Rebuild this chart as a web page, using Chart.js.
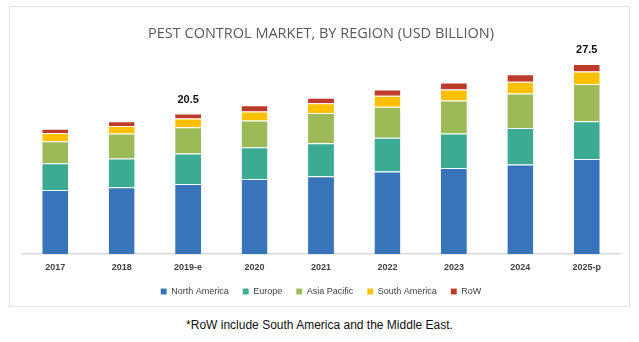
<!DOCTYPE html>
<html>
<head>
<meta charset="utf-8">
<script src="https://cdn.jsdelivr.net/npm/chart.js@4"></script>
<style>
  html, body { margin: 0; padding: 0; background: #fff; }
  body { width: 639px; height: 342px; position: relative; overflow: hidden; }
  #frame { position: absolute; left: 9px; top: 6px; width: 619px; height: 299px; border: 1px solid #e3e3e3; }
  #note { position: absolute; left: 0; width: 639px; top: 318px; text-align: center;
          font-family: "Liberation Sans", sans-serif; font-size: 12px; color: #111; }
</style>
</head>
<body>
<div id="frame"><canvas id="chart" width="619" height="299"></canvas></div>
<div id="note">*RoW include South America and the Middle East.</div>
<script>
const years = ['2017', '2018', '2019-e', '2020', '2021', '2022', '2023', '2024', '2025-p'];
const northAmerica = [9.3, 9.7, 10.2, 10.9, 11.3, 12.0, 12.5, 13.0, 13.8];
const europe = [3.9, 4.2, 4.4, 4.6, 4.8, 4.9, 5.0, 5.3, 5.5];
const asiaPacific = [3.2, 3.6, 3.8, 3.9, 4.4, 4.5, 4.8, 5.0, 5.4];
const southAmerica = [1.2, 1.1, 1.3, 1.3, 1.4, 1.6, 1.6, 1.7, 1.8];
const row = [0.6, 0.7, 0.7, 0.9, 0.8, 0.9, 1.0, 1.1, 1.1];
const totalLabels = ['', '', '20.5', '', '', '', '', '', '27.5'];

const totalsPlugin = {
    id: 'totals',
    afterDatasetsDraw(chart) {
        const ctx = chart.ctx;
        const meta = chart.getDatasetMeta(chart.data.datasets.length - 1);
        ctx.save();
        ctx.font = 'bold 11px "Liberation Sans", sans-serif';
        ctx.fillStyle = '#111';
        ctx.textAlign = 'center';
        ctx.textBaseline = 'bottom';
        totalLabels.forEach((t, i) => {
            if (!t) return;
            const bar = meta.data[i];
            ctx.fillText(t, bar.x, bar.y - 8);
        });
        ctx.restore();
    }
};

const sep = 'rgba(255,255,255,0.45)';
function ds(label, data, color) {
    return {
        label: label,
        data: data,
        backgroundColor: color,
        borderColor: sep,
        borderWidth: { top: 1, left: 0, right: 0, bottom: 0 },
        borderSkipped: false,
        categoryPercentage: 1,
        barPercentage: 0.39
    };
}

new Chart(document.getElementById('chart'), {
    type: 'bar',
    data: {
        labels: years,
        datasets: [
            ds('North America', northAmerica, '#3874B9'),
            ds('Europe', europe, '#3DAA93'),
            ds('Asia Pacific', asiaPacific, '#9CBB58'),
            ds('South America', southAmerica, '#FFC000'),
            ds('RoW', row, '#BE3B2C')
        ]
    },
    options: {
        responsive: false,
        animation: false,
        layout: { padding: { left: 12, right: 9, top: 0, bottom: 0 } },
        scales: {
            x: {
                stacked: true,
                grid: { display: false, drawTicks: false },
                border: { color: '#d9d9d9', width: 1.5 },
                ticks: { padding: 8, color: '#404040', font: { family: '"Liberation Sans", sans-serif', size: 9, weight: 'bold' } },
                afterFit(scale) { scale.height -= 8; }
            },
            y: {
                stacked: true,
                display: false,
                min: 0,
                max: 30
            }
        },
        plugins: {
            title: {
                display: true,
                text: 'PEST CONTROL MARKET, BY REGION (USD BILLION)',
                color: '#595959',
                font: { family: '"Open Sans", sans-serif', size: 14.5, weight: 'normal' },
                padding: { top: 18, bottom: 5 }
            },
            legend: {
                position: 'bottom',
                labels: {
                    boxWidth: 6,
                    boxHeight: 6,
                    padding: 14,
                    color: '#404040',
                    font: { family: '"Liberation Sans", sans-serif', size: 9 }
                }
            },
            tooltip: { enabled: false }
        }
    },
    plugins: [totalsPlugin]
});
</script>
</body>
</html>
